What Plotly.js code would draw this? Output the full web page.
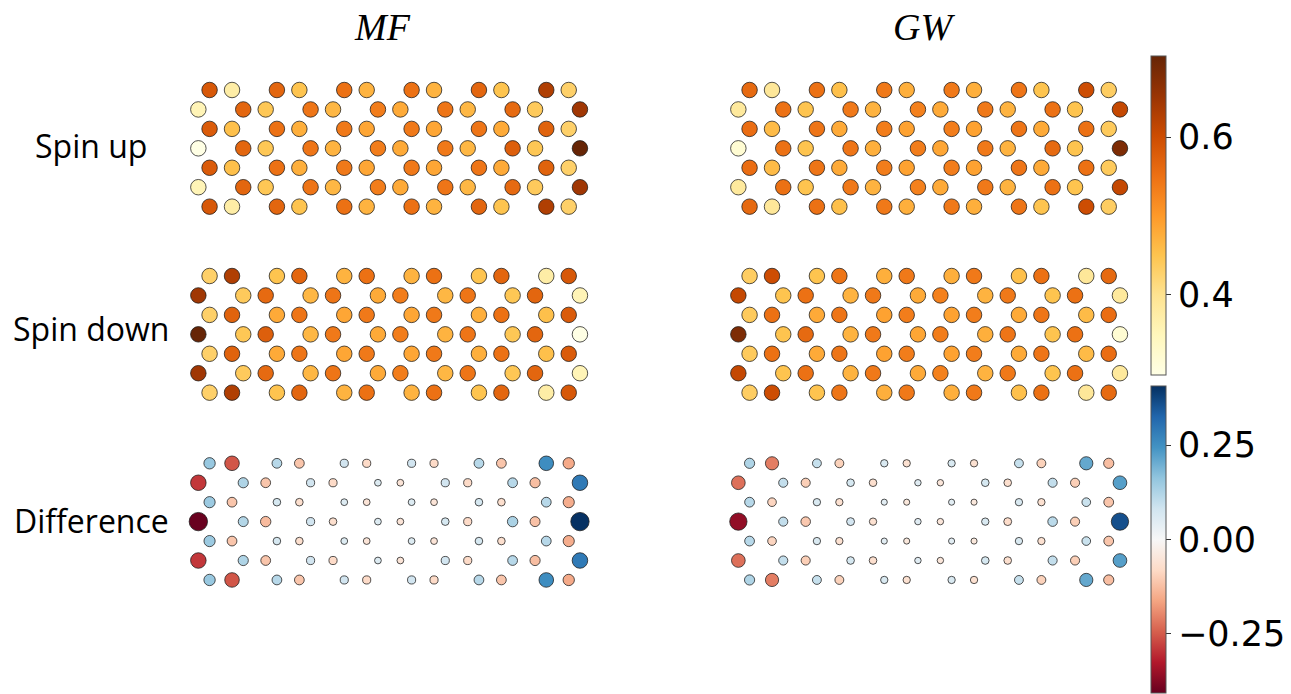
<!DOCTYPE html>
<html><head><meta charset="utf-8">
<script src="https://cdn.plot.ly/plotly-3.0.1.min.js"></script>
<style>html,body{margin:0;padding:0;background:#fff}#chart{width:1291px;height:694px}</style>
</head><body><div id="chart"></div>
<script>
// ---- lattice (zigzag graphene ribbon, armchair direction horizontal) ----
const evenRowX = [0, 1, 3, 4, 6, 7, 9, 10, 12, 13, 15, 16];
const oddRowX  = [-0.5, 1.5, 2.5, 4.5, 5.5, 7.5, 8.5, 10.5, 11.5, 13.5, 14.5, 16.5];
const rowIndex = [0, 1, 2, 3, 4, 5, 6];

const panelTitles = ['MF', 'GW'];
const rowLabels = ['Spin up', 'Spin down', 'Difference'];

// ---- values (one array per lattice row, left to right) ----
const mfSpinUp = [
  [0.585, 0.375, 0.565, 0.45, 0.55, 0.47, 0.55, 0.47, 0.565, 0.45, 0.63, 0.43],
  [0.355, 0.565, 0.445, 0.545, 0.465, 0.535, 0.48, 0.545, 0.465, 0.56, 0.44, 0.645],
  [0.58, 0.455, 0.55, 0.475, 0.54, 0.485, 0.54, 0.485, 0.545, 0.48, 0.57, 0.43],
  [0.298, 0.565, 0.445, 0.545, 0.47, 0.535, 0.48, 0.54, 0.465, 0.575, 0.445, 0.703],
  [0.58, 0.455, 0.55, 0.475, 0.54, 0.485, 0.54, 0.485, 0.545, 0.48, 0.57, 0.43],
  [0.355, 0.565, 0.445, 0.545, 0.465, 0.535, 0.48, 0.545, 0.465, 0.56, 0.44, 0.645],
  [0.585, 0.375, 0.565, 0.45, 0.55, 0.47, 0.55, 0.47, 0.565, 0.45, 0.63, 0.43]
];
const mfSpinDown = [
  [0.43, 0.63, 0.45, 0.565, 0.47, 0.55, 0.47, 0.55, 0.45, 0.565, 0.375, 0.585],
  [0.645, 0.44, 0.56, 0.465, 0.545, 0.48, 0.535, 0.465, 0.545, 0.445, 0.565, 0.355],
  [0.43, 0.57, 0.48, 0.545, 0.485, 0.54, 0.485, 0.54, 0.475, 0.55, 0.455, 0.58],
  [0.703, 0.445, 0.575, 0.465, 0.54, 0.48, 0.535, 0.47, 0.545, 0.445, 0.565, 0.298],
  [0.43, 0.57, 0.48, 0.545, 0.485, 0.54, 0.485, 0.54, 0.475, 0.55, 0.455, 0.58],
  [0.645, 0.44, 0.56, 0.465, 0.545, 0.48, 0.535, 0.465, 0.545, 0.445, 0.565, 0.355],
  [0.43, 0.63, 0.45, 0.565, 0.47, 0.55, 0.47, 0.55, 0.45, 0.565, 0.375, 0.585]
];
const mfDifference = [
  [0.155, -0.255, 0.115, -0.115, 0.08, -0.08, 0.08, -0.08, 0.115, -0.115, 0.255, -0.155],
  [-0.29, 0.125, -0.115, 0.08, -0.08, 0.055, -0.055, 0.08, -0.08, 0.115, -0.125, 0.29],
  [0.15, -0.115, 0.07, -0.07, 0.055, -0.055, 0.055, -0.055, 0.07, -0.07, 0.115, -0.15],
  [-0.405, 0.12, -0.13, 0.08, -0.07, 0.055, -0.055, 0.07, -0.08, 0.13, -0.12, 0.405],
  [0.15, -0.115, 0.07, -0.07, 0.055, -0.055, 0.055, -0.055, 0.07, -0.07, 0.115, -0.15],
  [-0.29, 0.125, -0.115, 0.08, -0.08, 0.055, -0.055, 0.08, -0.08, 0.115, -0.125, 0.29],
  [0.155, -0.255, 0.115, -0.115, 0.08, -0.08, 0.08, -0.08, 0.115, -0.115, 0.255, -0.155]
];
const gwSpinUp = [
  [0.56, 0.39, 0.55, 0.455, 0.54, 0.475, 0.54, 0.475, 0.545, 0.45, 0.60, 0.435],
  [0.385, 0.55, 0.45, 0.54, 0.47, 0.53, 0.48, 0.54, 0.47, 0.55, 0.45, 0.61],
  [0.555, 0.46, 0.545, 0.48, 0.535, 0.49, 0.535, 0.49, 0.545, 0.48, 0.55, 0.44],
  [0.32, 0.55, 0.45, 0.545, 0.475, 0.535, 0.485, 0.54, 0.47, 0.56, 0.45, 0.68],
  [0.555, 0.46, 0.545, 0.48, 0.535, 0.49, 0.535, 0.49, 0.545, 0.48, 0.55, 0.44],
  [0.385, 0.55, 0.45, 0.54, 0.47, 0.53, 0.48, 0.54, 0.47, 0.55, 0.45, 0.61],
  [0.56, 0.39, 0.55, 0.455, 0.54, 0.475, 0.54, 0.475, 0.545, 0.45, 0.60, 0.435]
];
const gwSpinDown = [
  [0.435, 0.60, 0.45, 0.545, 0.475, 0.54, 0.475, 0.54, 0.455, 0.55, 0.39, 0.56],
  [0.61, 0.45, 0.55, 0.47, 0.54, 0.48, 0.53, 0.47, 0.54, 0.45, 0.55, 0.385],
  [0.44, 0.55, 0.48, 0.545, 0.49, 0.535, 0.49, 0.535, 0.48, 0.545, 0.46, 0.555],
  [0.68, 0.45, 0.56, 0.47, 0.54, 0.485, 0.535, 0.475, 0.545, 0.45, 0.55, 0.32],
  [0.44, 0.55, 0.48, 0.545, 0.49, 0.535, 0.49, 0.535, 0.48, 0.545, 0.46, 0.555],
  [0.61, 0.45, 0.55, 0.47, 0.54, 0.48, 0.53, 0.47, 0.54, 0.45, 0.55, 0.385],
  [0.435, 0.60, 0.45, 0.545, 0.475, 0.54, 0.475, 0.54, 0.455, 0.55, 0.39, 0.56]
];
const gwDifference = [
  [0.125, -0.21, 0.095, -0.095, 0.065, -0.065, 0.065, -0.065, 0.095, -0.095, 0.21, -0.125],
  [-0.225, 0.10, -0.10, 0.07, -0.07, 0.05, -0.05, 0.07, -0.07, 0.10, -0.10, 0.225],
  [0.115, -0.09, 0.065, -0.065, 0.045, -0.045, 0.045, -0.045, 0.065, -0.065, 0.09, -0.115],
  [-0.36, 0.10, -0.11, 0.075, -0.065, 0.05, -0.05, 0.065, -0.075, 0.11, -0.10, 0.36],
  [0.115, -0.09, 0.065, -0.065, 0.045, -0.045, 0.045, -0.045, 0.065, -0.065, 0.09, -0.115],
  [-0.225, 0.10, -0.10, 0.07, -0.07, 0.05, -0.05, 0.07, -0.07, 0.10, -0.10, 0.225],
  [0.125, -0.21, 0.095, -0.095, 0.065, -0.065, 0.065, -0.065, 0.095, -0.095, 0.21, -0.125]
];

const densityRange = [0.298, 0.703];
const diffRange = [-0.407, 0.407];
const densityTicks = [0.4, 0.6];
const densityTickText = ['0.4', '0.6'];
const diffTicks = [-0.25, 0, 0.25];
const diffTickText = ['\u22120.25', '0.00', '0.25'];

// ---- colormaps (matplotlib YlOrBr and RdBu) ----
const ylOrBr = [[0,'#ffffe5'],[0.125,'#fff7bc'],[0.25,'#fee391'],[0.375,'#fec44f'],[0.5,'#fe9929'],
  [0.625,'#ec7014'],[0.75,'#cc4c02'],[0.875,'#993404'],[1,'#662506']];
const rdBu = [[0,'#67001f'],[0.1,'#b2182b'],[0.2,'#d6604d'],[0.3,'#f4a582'],[0.4,'#fddbc7'],
  [0.5,'#f7f7f7'],[0.6,'#d1e5f0'],[0.7,'#92c5de'],[0.8,'#4393c3'],[0.9,'#2166ac'],[1,'#053061']];

// lattice coordinates
const H = Math.sqrt(3) / 2;
const latX = [], latY = [];
rowIndex.forEach(r => {
  const xs = (r % 2 === 0) ? evenRowX : oddRowX;
  xs.forEach(x => { latX.push(x); latY.push(-r * H); });
});
const flat = a => a.flat();

const W = 1291, Ht = 694;
const colDom = [[175.9 / W, 602.4 / W], [715.9 / W, 1142.4 / W]];
const rowDom = [
  [(Ht - 229.1) / Ht, (Ht - 67.55) / Ht],
  [(Ht - 415.1) / Ht, (Ht - 253.55) / Ht],
  [(Ht - 602.4) / Ht, (Ht - 440.85) / Ht]
];

const lineStyle = {color: 'rgba(25,25,25,0.75)', width: 1};
const cbBase = {
  x: 1151 / W, xanchor: 'left', xpad: 0, ypad: 0, yanchor: 'middle',
  lenmode: 'pixels', thickness: 15, thicknessmode: 'pixels',
  outlinewidth: 1, outlinecolor: '#555',
  ticks: 'outside', ticklen: 5, tickwidth: 1, tickcolor: '#333',
  tickfont: {family: 'DejaVu Sans', size: 35, color: '#000'}
};

const panels = [
  {vals: mfSpinUp, col: 0, row: 0, kind: 'dens', bar: true},
  {vals: gwSpinUp, col: 1, row: 0, kind: 'dens'},
  {vals: mfSpinDown, col: 0, row: 1, kind: 'dens'},
  {vals: gwSpinDown, col: 1, row: 1, kind: 'dens'},
  {vals: mfDifference, col: 0, row: 2, kind: 'diff', bar: true},
  {vals: gwDifference, col: 1, row: 2, kind: 'diff'}
];

const data = [];
const layout = {
  width: W, height: Ht, margin: {l: 0, r: 0, t: 0, b: 0},
  paper_bgcolor: '#fff', plot_bgcolor: 'rgba(0,0,0,0)', showlegend: false,
  annotations: []
};

panels.forEach((p, i) => {
  const n = i + 1;
  const xa = n === 1 ? 'x' : 'x' + n, ya = n === 1 ? 'y' : 'y' + n;
  const v = flat(p.vals);
  const marker = {color: v, line: lineStyle, opacity: 1};
  if (p.kind === 'dens') {
    Object.assign(marker, {size: 15.5, colorscale: ylOrBr, cmin: densityRange[0], cmax: densityRange[1]});
    if (p.bar) marker.colorbar = Object.assign({}, cbBase, {y: 1 - 215.5 / Ht, len: 319,
      tickvals: densityTicks, ticktext: densityTickText});
  } else {
    Object.assign(marker, {size: v.map(Math.abs), sizemode: 'area', sizeref: 0.0024,
      colorscale: rdBu, cmin: diffRange[0], cmax: diffRange[1]});
    if (p.bar) marker.colorbar = Object.assign({}, cbBase, {y: 1 - 539.3 / Ht, len: 307,
      tickvals: diffTicks, ticktext: diffTickText});
  }
  marker.showscale = !!p.bar;
  data.push({type: 'scatter', mode: 'markers', x: latX, y: latY, xaxis: xa, yaxis: ya,
    marker: marker, hoverinfo: 'skip'});
  const axKeyX = n === 1 ? 'xaxis' : 'xaxis' + n, axKeyY = n === 1 ? 'yaxis' : 'yaxis' + n;
  layout[axKeyX] = {domain: colDom[p.col], range: [-1.5, 17.5], visible: false, fixedrange: true, anchor: ya};
  layout[axKeyY] = {domain: rowDom[p.row], range: [-6 * H - 1, 1], visible: false, fixedrange: true, anchor: xa};
});

// column titles
[382, 924].forEach((px, i) => {
  layout.annotations.push({text: '<i>' + panelTitles[i] + '</i>', xref: 'paper', yref: 'paper',
    x: px / W, y: 1 - 27 / Ht, xanchor: 'center', yanchor: 'middle', showarrow: false,
    font: {family: 'Liberation Serif', size: 38, color: '#000'}});
});
// row labels
[145, 328, 520].forEach((py, i) => {
  layout.annotations.push({text: rowLabels[i], xref: 'paper', yref: 'paper',
    x: 91 / W, y: 1 - py / Ht, xanchor: 'center', yanchor: 'middle', showarrow: false,
    font: {family: 'Open Sans', size: 32, color: '#000'}});
});

Plotly.newPlot('chart', data, layout, {displayModeBar: false, staticPlot: true});
</script>
</body></html>
